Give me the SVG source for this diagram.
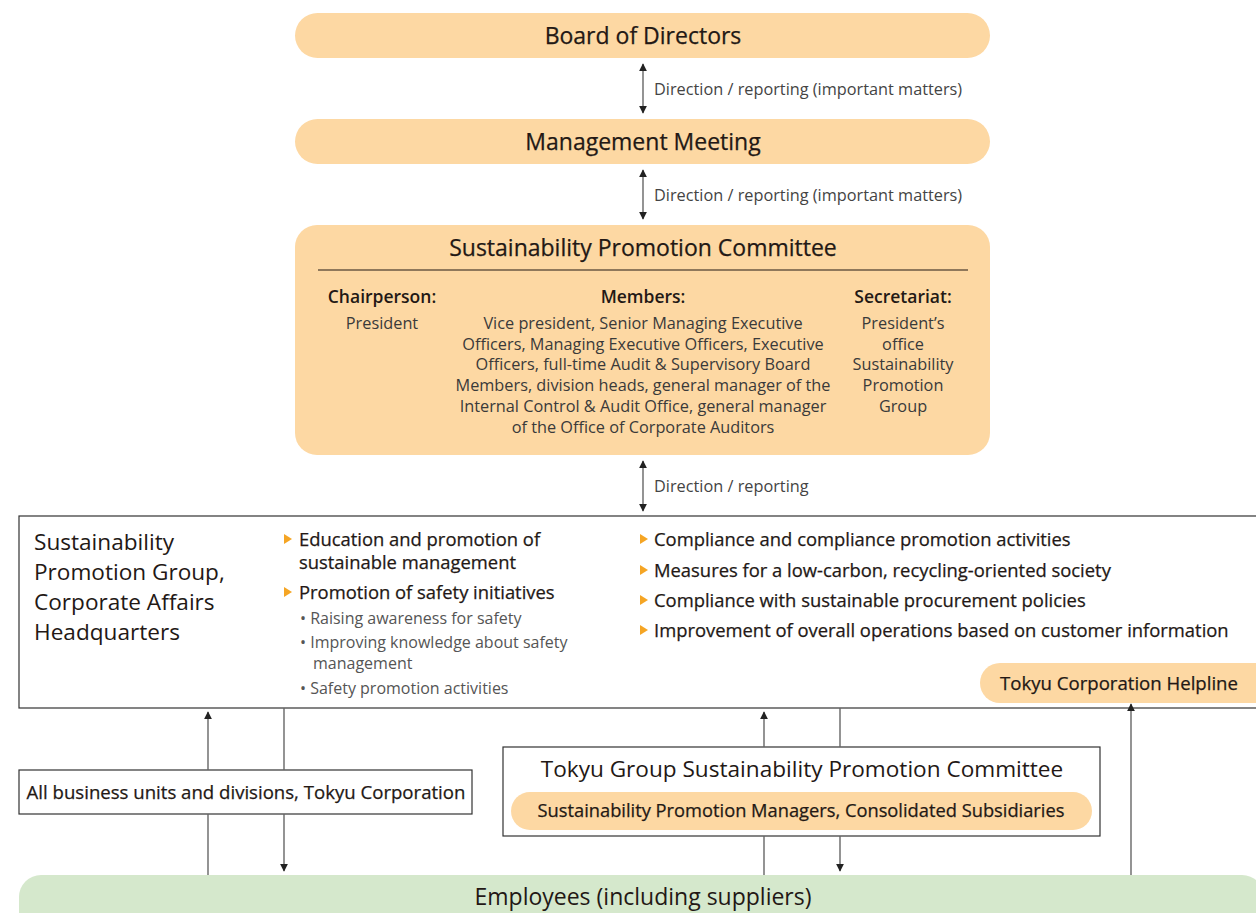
<svg xmlns="http://www.w3.org/2000/svg" xmlns:xlink="http://www.w3.org/1999/xlink" width="1256" height="913" viewBox="0 0 1256 913">
  <style>
    text { font-family: "Open Sans", "Noto Sans", "Liberation Sans", sans-serif; fill: #231815; }
    .pill { fill: #fdd8a3; }
    .med { stroke: #231815; stroke-width: 0.25; }
    .title { font-size: 23px; text-anchor: middle; }
    .label { font-size: 16.3px; fill: #444; }
    .head { font-size: 17.5px; font-weight: 600; text-anchor: middle; }
    .body { font-size: 16.3px; fill: #3a3a3a; text-anchor: middle; }
    .big { font-size: 22.6px; }
    .item { font-size: 18.4px; }
    .sub { font-size: 16px; fill: #555; }
    .frame { fill: #fff; stroke: #333; stroke-width: 1.2; }
    .link { fill: none; stroke: #666; stroke-width: 1.4; }
  </style>
  <defs>
    <marker id="arrow" viewBox="0 0 10 10" refX="9" refY="5" markerWidth="8" markerHeight="8" markerUnits="userSpaceOnUse" orient="auto-start-reverse">
      <path d="M0,0 L10,5 L0,10 z" fill="#222"/>
    </marker>
    <polygon id="tri" points="0,0 8,5 0,10" fill="#f5a524"/>
  </defs>

  <!-- Board of Directors -->
  <g id="board">
    <rect class="pill" x="295" y="13" width="695" height="45" rx="22.5"/>
    <text class="title med" x="643" y="44">Board of Directors</text>
  </g>

  <!-- Management Meeting -->
  <g id="management">
    <rect class="pill" x="295" y="119" width="695" height="45" rx="22.5"/>
    <text class="title med" x="643" y="150">Management Meeting</text>
  </g>

  <!-- Sustainability Promotion Committee -->
  <g id="committee">
    <rect class="pill" x="295" y="225" width="695" height="230" rx="22"/>
    <text class="title med" x="643" y="256">Sustainability Promotion Committee</text>
    <line x1="318" y1="270" x2="968" y2="270" stroke="#231815" stroke-width="1.2"/>
    <text class="head" x="382" y="303">Chairperson:</text>
    <text class="head" x="643" y="303">Members:</text>
    <text class="head" x="903" y="303">Secretariat:</text>
    <text class="body" x="382" y="329">President</text>
    <text class="body" x="643" y="329">Vice president, Senior Managing Executive</text>
    <text class="body" x="643" y="350">Officers, Managing Executive Officers, Executive</text>
    <text class="body" x="643" y="370">Officers, full-time Audit &amp; Supervisory Board</text>
    <text class="body" x="643" y="391">Members, division heads, general manager of the</text>
    <text class="body" x="643" y="412">Internal Control &amp; Audit Office, general manager</text>
    <text class="body" x="643" y="433">of the Office of Corporate Auditors</text>
    <text class="body" x="903" y="329">President’s</text>
    <text class="body" x="903" y="350">office</text>
    <text class="body" x="903" y="370">Sustainability</text>
    <text class="body" x="903" y="391">Promotion</text>
    <text class="body" x="903" y="412">Group</text>
  </g>

  <!-- Sustainability Promotion Group, Corporate Affairs Headquarters -->
  <g id="promotion-group">
    <rect class="frame" x="19" y="516" width="1250" height="192"/>
    <text class="big" x="34" y="550">Sustainability</text>
    <text class="big" x="34" y="580">Promotion Group,</text>
    <text class="big" x="34" y="610">Corporate Affairs</text>
    <text class="big" x="34" y="640">Headquarters</text>

    <use xlink:href="#tri" x="284" y="534"/>
    <text class="item med" x="299" y="546">Education and promotion of</text>
    <text class="item med" x="299" y="569">sustainable management</text>
    <use xlink:href="#tri" x="284" y="587"/>
    <text class="item med" x="299" y="599">Promotion of safety initiatives</text>
    <text class="sub" x="300" y="624">• Raising awareness for safety</text>
    <text class="sub" x="300" y="648">• Improving knowledge about safety</text>
    <text class="sub" x="313" y="669">management</text>
    <text class="sub" x="300" y="694">• Safety promotion activities</text>

    <use xlink:href="#tri" x="640" y="534"/>
    <text class="item med" x="654" y="546">Compliance and compliance promotion activities</text>
    <use xlink:href="#tri" x="640" y="565"/>
    <text class="item med" x="654" y="577">Measures for a low-carbon, recycling-oriented society</text>
    <use xlink:href="#tri" x="640" y="595"/>
    <text class="item med" x="654" y="607">Compliance with sustainable procurement policies</text>
    <use xlink:href="#tri" x="640" y="625"/>
    <text class="item med" x="654" y="637">Improvement of overall operations based on customer information</text>
  </g>

  <!-- Tokyu Corporation Helpline -->
  <g id="helpline">
    <rect class="pill" x="980" y="663" width="296" height="40" rx="20"/>
    <text class="med" x="1119" y="690" font-size="18.6" text-anchor="middle">Tokyu Corporation Helpline</text>
  </g>

  <!-- All business units and divisions -->
  <g id="business-units">
    <rect class="frame" x="19" y="770" width="453" height="44"/>
    <text class="med" x="246" y="799" font-size="18.6" text-anchor="middle">All business units and divisions, Tokyu Corporation</text>
  </g>

  <!-- Tokyu Group Sustainability Promotion Committee -->
  <g id="group-committee">
    <rect class="frame" x="503" y="747" width="597" height="89"/>
    <text x="802" y="777" font-size="22.6" text-anchor="middle">Tokyu Group Sustainability Promotion Committee</text>
    <rect class="pill" x="511" y="792" width="581" height="38" rx="19"/>
    <text class="med" x="801" y="817" font-size="18.3" text-anchor="middle">Sustainability Promotion Managers, Consolidated Subsidiaries</text>
  </g>

  <!-- Employees -->
  <g id="employees">
    <rect x="19" y="875" width="1245" height="60" rx="22" fill="#d5e8cc"/>
    <text class="title" x="643" y="905">Employees (including suppliers)</text>
  </g>

  <!-- Connectors -->
  <g id="connectors">
    <line class="link" x1="643" y1="64" x2="643" y2="113" marker-start="url(#arrow)" marker-end="url(#arrow)"/>
    <line class="link" x1="643" y1="170" x2="643" y2="219" marker-start="url(#arrow)" marker-end="url(#arrow)"/>
    <line class="link" x1="643" y1="461" x2="643" y2="511" marker-start="url(#arrow)" marker-end="url(#arrow)"/>
    <text class="label" x="654" y="95">Direction / reporting (important matters)</text>
    <text class="label" x="654" y="201">Direction / reporting (important matters)</text>
    <text class="label" x="654" y="492">Direction / reporting</text>

    <!-- business units: reports up, directions down -->
    <line class="link" x1="208" y1="770" x2="208" y2="712" marker-end="url(#arrow)"/>
    <line class="link" x1="208" y1="875" x2="208" y2="814"/>
    <line class="link" x1="284" y1="708" x2="284" y2="770"/>
    <line class="link" x1="284" y1="814" x2="284" y2="871" marker-end="url(#arrow)"/>

    <!-- group committee: reports up, directions down -->
    <line class="link" x1="764" y1="747" x2="764" y2="712" marker-end="url(#arrow)"/>
    <line class="link" x1="764" y1="875" x2="764" y2="836"/>
    <line class="link" x1="840" y1="708" x2="840" y2="747"/>
    <line class="link" x1="840" y1="836" x2="840" y2="871" marker-end="url(#arrow)"/>

    <!-- helpline -->
    <line class="link" x1="1131" y1="875" x2="1131" y2="704" marker-end="url(#arrow)"/>
  </g>
</svg>
